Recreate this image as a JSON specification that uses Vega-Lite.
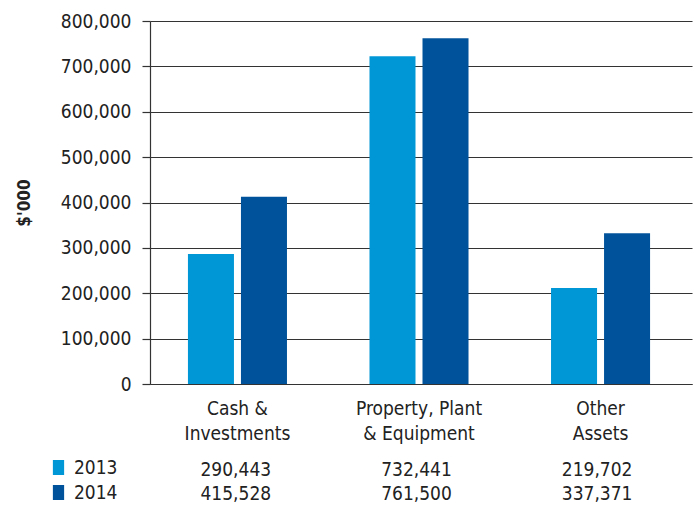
{
  "$schema": "https://vega.github.io/schema/vega-lite/v6.json",
  "background": "white",
  "padding": {"left": 15, "top": 12, "right": 5, "bottom": 0},
  "spacing": 15,
  "config": {
    "font": "DejaVu Sans Condensed",
    "view": {"stroke": null}
  },
  "datasets": {
    "assets": [
      {"category": "Cash & Investments", "year": "2013", "value": 286500, "label": "290,443"},
      {"category": "Cash & Investments", "year": "2014", "value": 412500, "label": "415,528"},
      {"category": "Property, Plant & Equipment", "year": "2013", "value": 722500, "label": "732,441"},
      {"category": "Property, Plant & Equipment", "year": "2014", "value": 762000, "label": "761,500"},
      {"category": "Other Assets", "year": "2013", "value": 211500, "label": "219,702"},
      {"category": "Other Assets", "year": "2014", "value": 332500, "label": "337,371"}
    ]
  },
  "resolve": {"scale": {"color": "independent"}, "legend": {"color": "independent"}},
  "vconcat": [
    {
      "width": 542,
      "height": 363,
      "data": {"name": "assets"},
      "mark": {"type": "bar"},
      "encoding": {
        "x": {
          "field": "category",
          "type": "nominal",
          "sort": ["Cash & Investments", "Property, Plant & Equipment", "Other Assets"],
          "scale": {"paddingInner": 0.4545, "paddingOuter": 0.22, "align": 0.475},
          "axis": {
            "title": null,
            "labelAngle": 0,
            "labelExpr": "datum.value == 'Cash & Investments' ? ['Cash &', 'Investments'] : datum.value == 'Property, Plant & Equipment' ? ['Property, Plant', '& Equipment'] : ['Other', 'Assets']",
            "ticks": false,
            "tickSize": 0,
            "labelPadding": 15,
            "labelLineHeight": 25,
            "labelFontSize": 19,
            "labelColor": "#222222",
            "labelLimit": 0,
            "domain": true,
            "domainColor": "#333333",
            "domainWidth": 1.2
          }
        },
        "xOffset": {
          "field": "year",
          "type": "nominal",
          "scale": {"paddingInner": 0.132, "paddingOuter": 0}
        },
        "y": {
          "field": "value",
          "type": "quantitative",
          "scale": {"domain": [0, 800000], "nice": false},
          "axis": {
            "title": "$'000",
            "titleFontSize": 17,
            "titleFontWeight": "bold",
            "titleColor": "#222222",
            "titlePadding": 27,
            "values": [0, 100000, 200000, 300000, 400000, 500000, 600000, 700000, 800000],
            "format": ",d",
            "labelFontSize": 19,
            "labelColor": "#222222",
            "labelPadding": 11,
            "tickSize": 8,
            "tickColor": "#333333",
            "tickWidth": 1.2,
            "domainColor": "#333333",
            "domainWidth": 1.2,
            "grid": true,
            "gridColor": "#333333",
            "gridWidth": 1.2
          }
        },
        "color": {
          "field": "year",
          "type": "nominal",
          "scale": {"domain": ["2013", "2014"], "range": ["#0097D6", "#00539B"]},
          "legend": null
        }
      }
    },
    {
      "width": 542,
      "height": 48,
      "data": {"name": "assets"},
      "layer": [
        {
          "mark": {"type": "text", "fontSize": 19, "color": "#222222", "baseline": "middle"},
          "encoding": {
            "x": {
              "field": "category",
              "type": "nominal",
              "sort": ["Cash & Investments", "Property, Plant & Equipment", "Other Assets"],
              "scale": {"paddingInner": 0.4545, "paddingOuter": 0.22, "align": 0.475},
              "axis": null
            },
            "y": {
              "field": "year",
              "type": "nominal",
              "scale": {"domain": ["2013", "2014"], "paddingInner": 0, "paddingOuter": 0},
              "axis": null
            },
            "text": {"field": "label"}
          }
        },
        {
          "mark": {"type": "point", "filled": true, "opacity": 0},
          "encoding": {
            "y": {
              "field": "year",
              "type": "nominal",
              "scale": {"domain": ["2013", "2014"], "paddingInner": 0, "paddingOuter": 0},
              "axis": null
            },
            "color": {
              "field": "year",
              "type": "nominal",
              "scale": {"domain": ["2013", "2014"], "range": ["#0097D6", "#00539B"]},
              "legend": {
                "title": null,
                "orient": "left",
                "offset": 32,
                "padding": 0,
                "symbolType": "M-0.75,-1L0.75,-1L0.75,1L-0.75,1Z",
                "symbolSize": 225,
                "symbolOpacity": 1,
                "symbolStrokeWidth": 0,
                "labelFontSize": 19,
                "labelColor": "#222222",
                "labelOffset": 6,
                "rowPadding": 5
              }
            }
          }
        }
      ]
    }
  ]
}
